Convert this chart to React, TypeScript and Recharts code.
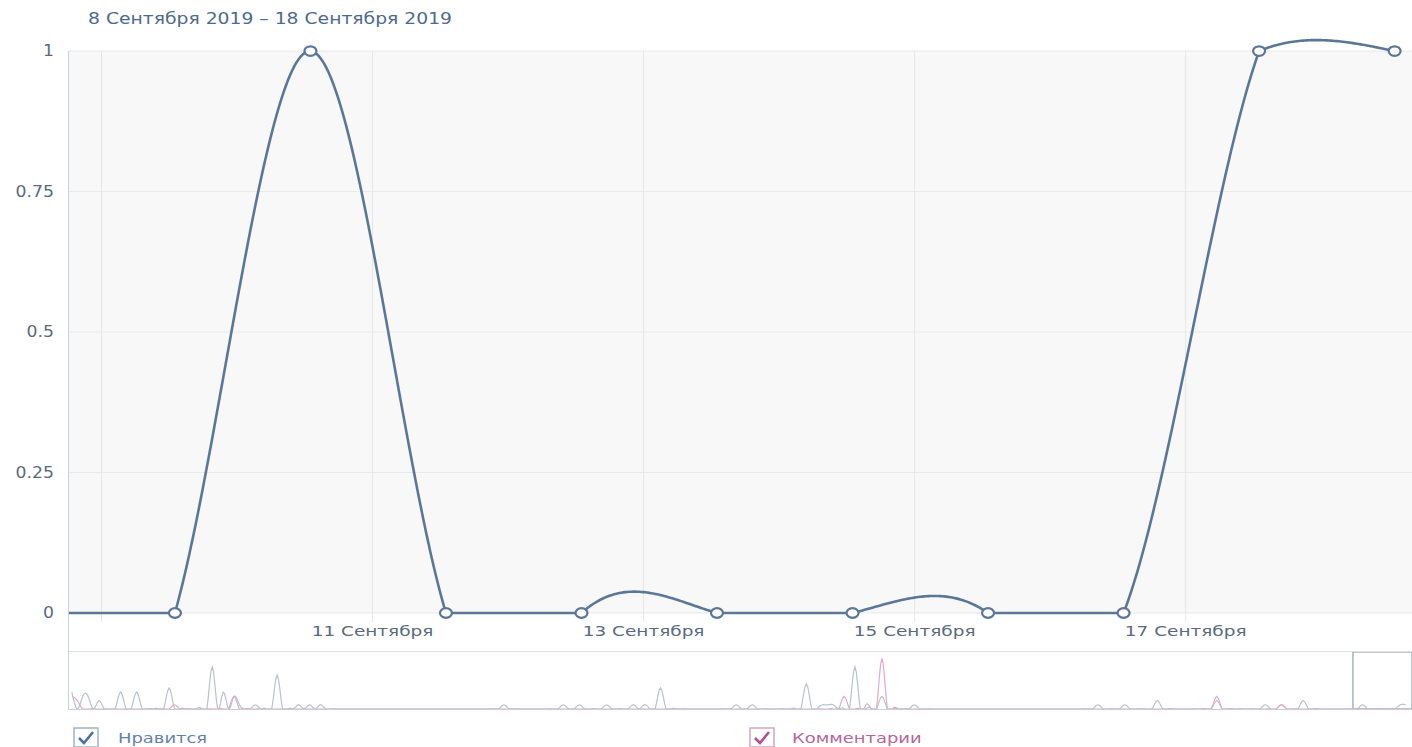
import React from "react"
import {
  CartesianGrid,
  Line,
  LineChart,
  ReferenceArea,
  ReferenceLine,
  XAxis,
  YAxis,
} from "recharts"

// day numbers count from 14 January 2019, daily points are stamped at 13:00
const POINT_HOUR = 13

const MAIN_DAYS = [237, 238, 239, 240, 241, 242, 243, 244, 245, 246, 247]
const MAIN_DATES = [
  "8 Сентября",
  "9 Сентября",
  "10 Сентября",
  "11 Сентября",
  "12 Сентября",
  "13 Сентября",
  "14 Сентября",
  "15 Сентября",
  "16 Сентября",
  "17 Сентября",
  "18 Сентября",
]
const MAIN_LIKES = [0, 0, 1, 0, 0, 0, 0, 0, 0, 1, 1]

// visible window of the main chart (8 Sep evening .. end of 18 Sep)
const VIEW_FROM = 237.76
const VIEW_TO = 247.67

const X_TICKS = [238, 240, 242, 244, 246]
const X_TICK_LABELS = ["", "11 Сентября", "13 Сентября", "15 Сентября", "17 Сентября"]
const Y_TICKS = [0, 0.25, 0.5, 0.75, 1]

// navigator: whole history, [day, count] for days with activity
const NAV_DAY_COUNT = 248
const NAV_LIKES: [number, number][] = [
  [0, 4], [2, 3], [3, 3], [5, 2], [9, 4], [12, 4], [18, 5], [26, 10], [28, 4],
  [30, 3], [31, 1], [34, 1], [38, 8], [42, 1], [44, 1], [46, 1], [80, 1], [91, 1],
  [94, 1], [99, 1], [104, 1], [106, 1], [109, 5], [123, 1], [126, 1], [136, 6],
  [139, 1], [140, 1], [141, 1], [145, 10], [147, 1], [150, 3], [156, 1], [190, 1],
  [195, 1], [201, 2], [212, 2], [221, 1], [224, 1], [228, 2], [239, 1], [246, 1],
  [247, 1],
]
const NAV_COMMENTS: [number, number][] = [
  [0, 3], [1, 2], [19, 1], [30, 3], [143, 3], [150, 12], [212, 3], [224, 1],
]

const LINE_COLOR = "#5b7797"
const TEXT_COLOR = "#5a6b80"
const FONT = "DejaVu Sans, Verdana, sans-serif"

const mainData = MAIN_DAYS.map((d, i) => ({
  x: d + POINT_HOUR / 24,
  date: MAIN_DATES[i],
  likes: MAIN_LIKES[i],
}))

const likesByDay = new Map(NAV_LIKES)
const commentsByDay = new Map(NAV_COMMENTS)
const navData = Array.from({ length: NAV_DAY_COUNT }, (_, d) => ({
  x: d + POINT_HOUR / 24,
  likes: likesByDay.get(d) ?? 0,
  comments: commentsByDay.get(d) ?? 0,
}))

// natural cubic spline second derivatives
function naturalMoments(t: number[], v: number[]) {
  const n = t.length
  const m = new Array(n).fill(0)
  const cp = new Array(n).fill(0)
  const dp = new Array(n).fill(0)
  for (let i = 1; i < n - 1; i++) {
    const h0 = t[i] - t[i - 1]
    const h1 = t[i + 1] - t[i]
    const r = 6 * ((v[i + 1] - v[i]) / h1 - (v[i] - v[i - 1]) / h0)
    const den = 2 * (h0 + h1) - h0 * cp[i - 1]
    cp[i] = h1 / den
    dp[i] = (r - h0 * dp[i - 1]) / den
  }
  for (let i = n - 2; i >= 1; i--) m[i] = dp[i] - cp[i] * m[i + 1]
  return m
}

// spline that never goes under the lowest value and barely over the highest
function floorSpline(context: any) {
  let xs: number[] = []
  let ys: number[] = []
  return {
    areaStart() {},
    areaEnd() {},
    lineStart() {
      xs = []
      ys = []
    },
    point(x: number, y: number) {
      xs.push(+x)
      ys.push(+y)
    },
    lineEnd() {
      const n = xs.length
      if (!n) return
      const floor = Math.max(...ys)
      const top = Math.min(...ys)
      context.moveTo(xs[0], ys[0])
      if (n < 3) {
        for (let i = 1; i < n; i++) context.lineTo(xs[i], ys[i])
        return
      }
      const m = naturalMoments(xs, ys)
      for (let i = 0; i < n - 1; i++) {
        const h = xs[i + 1] - xs[i]
        const k = (h * h) / 6
        const steps = Math.max(4, Math.ceil(h / 2))
        for (let s = 1; s <= steps; s++) {
          const b = s / steps
          const a = 1 - b
          let y = a * ys[i] + b * ys[i + 1] + ((a * a * a - a) * m[i] + (b * b * b - b) * m[i + 1]) * k
          if (y > floor) y = floor
          else if (y < top) y = top - (top - y) * 0.15
          context.lineTo(xs[i] + b * h, y)
        }
      }
    },
  }
}

function XTick(props: any) {
  const { x, y, payload } = props
  const label = X_TICK_LABELS[X_TICKS.indexOf(payload.value)]
  if (!label) return <g />
  return (
    <g transform={`translate(${x},${y + 6}) scale(1.32,1)`}>
      <text textAnchor="middle" fontSize={14} fontFamily={FONT} fill={TEXT_COLOR}>
        {label}
      </text>
    </g>
  )
}

function YTick(props: any) {
  const { x, y, payload } = props
  return (
    <g transform={`translate(${x - 7},${y}) scale(1.15,1)`}>
      <text textAnchor="end" dy={5} fontSize={15} fontFamily={FONT} fill={TEXT_COLOR}>
        {String(payload.value)}
      </text>
    </g>
  )
}

function RingDot(props: any) {
  const { cx, cy } = props
  if (cx == null || cy == null) return <g />
  return <ellipse cx={cx} cy={cy} rx={6} ry={4.8} fill="#fff" stroke={LINE_COLOR} strokeWidth={2.2} />
}

function Check({ box, mark }: { box: string; mark: string }) {
  return (
    <svg width={26} height={21}>
      <rect x={1} y={1} width={24} height={19} fill="#fff" stroke={box} strokeWidth={1.5} />
      <path d="M6 11 L11 16 L20 5" fill="none" stroke={mark} strokeWidth={2.6} />
    </svg>
  )
}

const stretched = {
  position: "absolute" as const,
  whiteSpace: "nowrap" as const,
  transformOrigin: "0 0",
  fontFamily: FONT,
}

export default function App() {
  return (
    <div
      style={{
        position: "absolute",
        left: 0,
        top: 0,
        width: 1412,
        height: 747,
        overflow: "hidden",
        background: "#fff",
      }}
    >
      <div
        style={{ position: "absolute", left: 69, top: 51, width: 1343, height: 562, background: "#f8f8f8" }}
      />
      <div
        style={{
          ...stretched,
          left: 88,
          top: 11,
          fontSize: 15,
          lineHeight: "17px",
          color: "#4d6a8e",
          transform: "scaleX(1.25)",
        }}
      >
        8 Сентября 2019 – 18 Сентября 2019
      </div>

      <div style={{ position: "absolute", left: 0, top: 0 }}>
        <LineChart width={1412} height={651} data={mainData} margin={{ top: 23, right: 0, bottom: 0, left: 0 }}>
          <CartesianGrid vertical={false} syncWithTicks stroke="#e9e9e9" />
          {X_TICKS.map((t) => (
            <ReferenceLine
              key={t}
              segment={[
                { x: t, y: -0.016 },
                { x: t, y: 1 },
              ]}
              stroke="#e6e6e6"
            />
          ))}
          <XAxis
            dataKey="x"
            type="number"
            domain={[VIEW_FROM, VIEW_TO]}
            allowDataOverflow
            ticks={X_TICKS}
            interval={0}
            tick={<XTick />}
            tickLine={false}
            axisLine={false}
            height={29}
          />
          <YAxis
            type="number"
            domain={[-0.016, 1.05]}
            ticks={Y_TICKS}
            interval={0}
            width={69}
            tick={<YTick />}
            tickLine={false}
            axisLine={false}
          />
          <Line
            dataKey="likes"
            type={floorSpline as any}
            stroke={LINE_COLOR}
            strokeWidth={2.6}
            dot={<RingDot />}
            activeDot={false}
            isAnimationActive={false}
          />
        </LineChart>
      </div>

      <div style={{ position: "absolute", left: 68, top: 51, width: 1, height: 659, background: "#c9d3de" }} />
      <div style={{ position: "absolute", left: 69, top: 651, width: 1343, height: 1, background: "#e2e2e2" }} />
      <div style={{ position: "absolute", left: 69, top: 709, width: 1343, height: 1, background: "#c6ced8" }} />

      <div style={{ position: "absolute", left: 0, top: 652 }}>
        <LineChart width={1412} height={57} data={navData} margin={{ top: 0, right: 0, bottom: 0, left: 69 }}>
          <XAxis dataKey="x" type="number" domain={[0, 248.7]} hide />
          <YAxis type="number" domain={[0, 13.5]} hide />
          <Line
            dataKey="likes"
            type={floorSpline as any}
            stroke="#b7c2d4"
            strokeWidth={1.2}
            dot={false}
            activeDot={false}
            isAnimationActive={false}
          />
          <Line
            dataKey="comments"
            type={floorSpline as any}
            stroke="#e4a9c9"
            strokeWidth={1.2}
            dot={false}
            activeDot={false}
            isAnimationActive={false}
          />
          <ReferenceArea
            x1={VIEW_FROM}
            x2={248.7}
            y1={0}
            y2={13.5}
            fill="none"
            stroke="#a9b2bd"
            strokeWidth={1.5}
          />
        </LineChart>
      </div>

      <div style={{ position: "absolute", left: 73, top: 727 }}>
        <Check box="#a4b3c5" mark="#4b72a3" />
      </div>
      <div
        style={{
          ...stretched,
          left: 118,
          top: 730,
          fontSize: 14,
          lineHeight: "16px",
          color: "#6482a8",
          transform: "scaleX(1.28)",
        }}
      >
        Нравится
      </div>
      <div style={{ position: "absolute", left: 749, top: 727 }}>
        <Check box="#d6a6c4" mark="#b2508d" />
      </div>
      <div
        style={{
          ...stretched,
          left: 792,
          top: 730,
          fontSize: 14,
          lineHeight: "16px",
          color: "#b4679a",
          transform: "scaleX(1.28)",
        }}
      >
        Комментарии
      </div>
    </div>
  )
}
